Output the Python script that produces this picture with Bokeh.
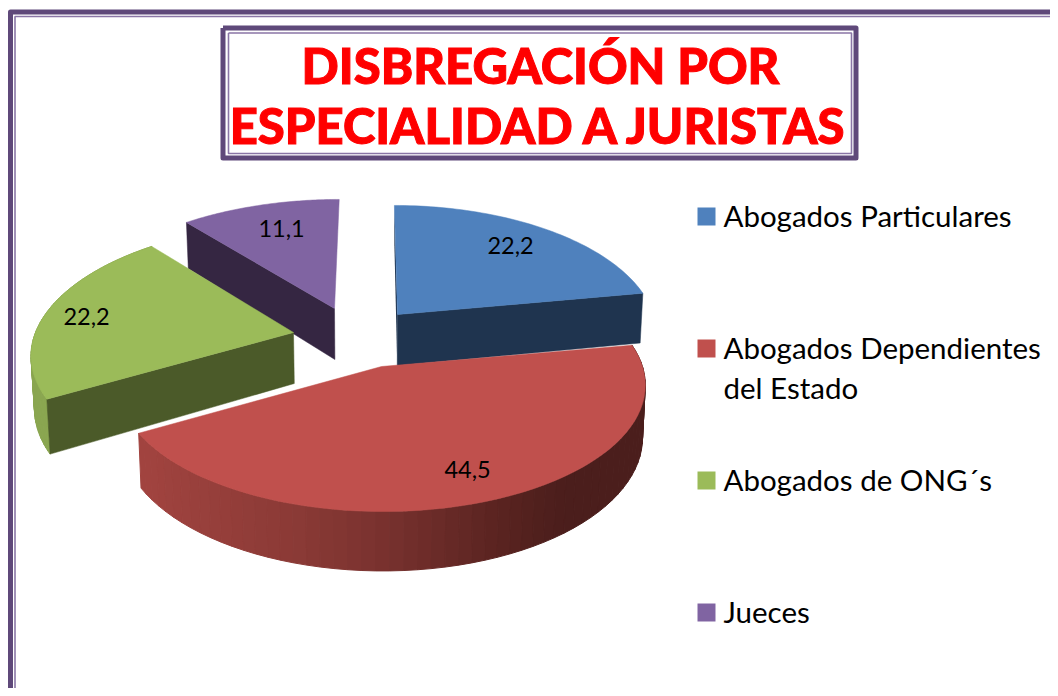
import numpy as np
from bokeh.plotting import figure
from bokeh.models import Range1d
from bokeh.core.properties import value
from bokeh.embed import file_html
from bokeh.resources import INLINE

# ---- data ----
categories = ["Abogados Particulares", "Abogados Dependientes\ndel Estado", "Abogados de ONG´s", "Jueces"]
values = [22.2, 44.5, 22.2, 11.1]
title_lines = ["DISBREGACIÓN POR", "ESPECIALIDAD A JURISTAS"]

# ---- style / layout ----
top_colors = ["#4F81BD", "#C0504D", "#9BBB59", "#8064A2"]
cut_colors = ["#1F344F", "#4F1F1D", "#4B5A29", "#352642"]
apexes = [(397, 314), (381, 366), (293, 332), (334, 308)]   # exploded slice tips
radii_x = [256.0, 261.0, 258.0, 262.0]
label_pos = [(510, 245), (467, 469), (86, 316), (281, 228)]
legend_y = [216, 348, 480, 612]
VX, K, B, H, M = 372.0, 0.1416, 124.5, 51.0, 0.01
FRAME = "#5F497A"
THIN = "#8A76A6"
BODY = "Lato"

p = figure(width=1050, height=688, x_range=Range1d(0, 1050), y_range=Range1d(688, 0),
           output_backend="svg", toolbar_location=None, min_border=0,
           background_fill_color="white", outline_line_color=None)
p.axis.visible = False
p.grid.visible = False


def proj(i, th, r=1.0, low=False):
    apex = apexes[i]
    th = np.radians(th)
    u, v = np.sin(th) * r, np.cos(th) * r
    s = 1.0 / (1.0 + K * v)
    x = VX + (apex[0] - VX + radii_x[i] * u) * s
    y = apex[1] - B * v * s
    if low:
        y = y + H * s
        x = VX + (x - VX) * (1 - M)
    return x, y


def rim_color(x):
    xs = [140, 300, 380, 500, 565]
    reds = [[0xA2, 0x44, 0x40], [0x8A, 0x3A, 0x36], [0x7A, 0x32, 0x2F], [0x5A, 0x24, 0x21], [0x4B, 0x1E, 0x1C]]
    c = [int(np.interp(x, xs, [r[i] for r in reds])) for i in range(3)]
    return "#%02X%02X%02X" % tuple(c)


# frames
p.line([10, 10, 1050], [696, 11.5, 11.5], line_color=FRAME, line_width=5, line_join="round")
p.line([14.5, 14.5, 1050], [696, 16, 16], line_color=THIN, line_width=1.6)
p.line([222.5, 855.5, 855.5, 222.5, 222.5], [27.5, 27.5, 157.5, 157.5, 27.5],
       line_color=FRAME, line_width=5, line_join="round")
p.line([228, 851, 851, 228, 228], [32.5, 32.5, 153, 153, 32.5], line_color=THIN, line_width=1.6)

# title
p.text([540, 539], [64, 124], text=title_lines, text_color="#FF0000", text_outline_color="#FF0000",
       text_font=value("Lato Black"), text_font_size="49px", text_font_style="bold",
       text_align="center", text_baseline="middle")

# slices, from values
edges = np.concatenate([[0.0], np.cumsum(values)]) / sum(values) * 360.0
order = [3, 0, 2, 1]
for i in order:
    a0, a1 = edges[i], edges[i + 1]
    cut_end = {0: a1, 1: None, 2: a0, 3: a0}[i]
    ths = np.linspace(a0, a1, 61)
    if i in (1, 2):
        for k in range(len(ths) - 1, 0, -1):
            t0, t1 = ths[k - 1], ths[k]
            x0, y0 = proj(i, t0)
            x1, y1 = proj(i, t1)
            x2, y2 = proj(i, t1, low=True)
            x3, y3 = proj(i, t0, low=True)
            col = rim_color((x0 + x1) / 2) if i == 1 else "#8AA650"
            p.patch([x0, x1, x2, x3], [y0, y1, y2, y3], fill_color=col, line_color=col, line_width=1.0)
    if i == 0:
        x0, y0 = proj(i, a0)
        ax, ay = proj(i, 0, r=0)
        bx0, by0 = proj(i, 0, r=0, low=True)
        p.patch([x0, ax, bx0, x0], [y0, ay, by0, y0 + 40], fill_color=cut_colors[i], line_color=None)
    if cut_end is not None:
        x0, y0 = proj(i, 0, r=0)
        x1, y1 = proj(i, cut_end)
        x2, y2 = proj(i, cut_end, low=True)
        x3, y3 = proj(i, 0, r=0, low=True)
        p.patch([x0, x1, x2, x3], [y0, y1, y2, y3], fill_color=cut_colors[i], line_color=cut_colors[i], line_width=0.5)
    xs, ys = proj(i, ths)
    tip = apexes[i]
    p.patch(np.r_[tip[0], xs], np.r_[tip[1], ys], fill_color=top_colors[i], line_color=top_colors[i], line_width=0.5)

# data labels
labels = [("%.1f" % v).replace(".", ",") for v in values]
p.text([q[0] for q in label_pos], [q[1] for q in label_pos], text=labels, text_color="#000000",
       text_font=value(BODY), text_font_size="23.5px", text_align="center", text_baseline="middle")

# legend
p.rect([706] * 4, legend_y, width=18, height=18, fill_color=top_colors, line_color=None)
lx, ly, lt = [], [], []
for c, y in zip(categories, legend_y):
    for j, t in enumerate(c.split("\n")):
        lx.append(723)
        ly.append(y + j * 40 - 1)
        lt.append(t)
p.text(lx, ly, text=lt, text_color="#000000", text_font=value(BODY), text_font_size="29.5px",
       text_align="left", text_baseline="middle")

open("out.html", "w").write(file_html(p, INLINE))
